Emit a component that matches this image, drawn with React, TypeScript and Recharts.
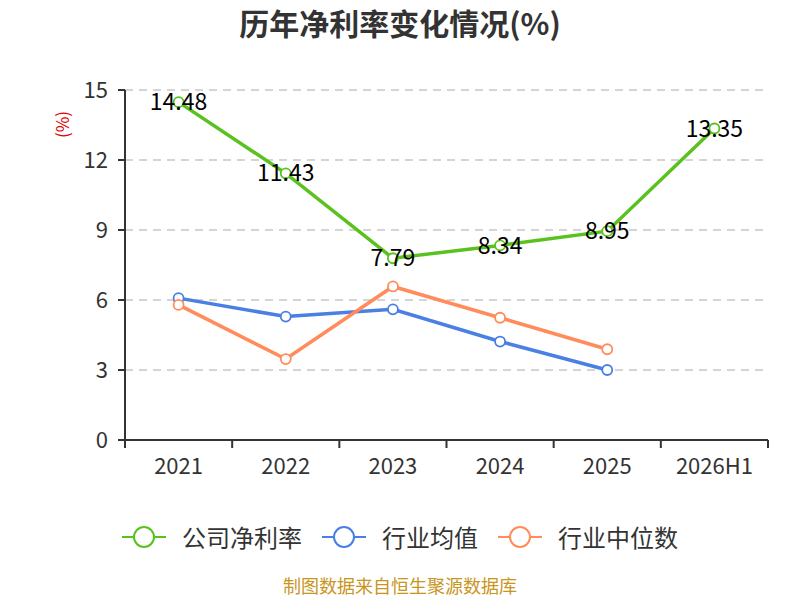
import { CartesianGrid, LabelList, Line, LineChart, XAxis, YAxis } from 'recharts';

const GREEN = '#5ac21e';
const BLUE = '#4a7fe3';
const ORANGE = '#ff8c5a';
const INK = '#333333';
const FONT = "'Noto Sans CJK SC', 'Noto Sans', sans-serif";

const years = ['2021', '2022', '2023', '2024', '2025', '2026H1'];
const companyMargin = [14.48, 11.43, 7.79, 8.34, 8.95, 13.35];
const industryAvg = [6.08, 5.29, 5.6, 4.22, 3.0];
const industryMedian = [5.79, 3.47, 6.58, 5.24, 3.89];
const yTicks = [0, 3, 6, 9, 12, 15];

const series = [
  { key: 'company', name: '公司净利率', color: GREEN },
  { key: 'avg', name: '行业均值', color: BLUE },
  { key: 'median', name: '行业中位数', color: ORANGE },
];

const data = years.map((year, i) => ({
  year,
  company: companyMargin[i],
  avg: industryAvg[i],
  median: industryMedian[i],
}));

// category tick with boundary tick marks (echarts style)
function YearTick(props: any) {
  const { x, y, payload, index, visibleTicksCount } = props;
  const half = payload.offset || 0;
  const isLast = index === visibleTicksCount - 1;
  return (
    <g>
      <line x1={x - half} y1={y} x2={x - half} y2={y + 8} stroke={INK} strokeWidth={2} />
      {isLast && <line x1={x + half} y1={y} x2={x + half} y2={y + 8} stroke={INK} strokeWidth={2} />}
      <text x={x} y={y + 34} textAnchor="middle" fill={INK} fontSize={22}>
        {payload.value}
      </text>
    </g>
  );
}

function LegendIcon({ color }: { color: string }) {
  return (
    <svg width={44} height={26} style={{ marginRight: 16 }}>
      <line x1={0} y1={13} x2={44} y2={13} stroke={color} strokeWidth={2} />
      <circle cx={22} cy={13} r={10} fill="#fff" stroke={color} strokeWidth={2} />
    </svg>
  );
}

export default function App() {
  return (
    <div
      style={{
        position: 'absolute',
        left: 0,
        top: 0,
        width: 800,
        height: 600,
        background: '#fff',
        fontFamily: FONT,
        overflow: 'hidden',
      }}
    >
      <div
        style={{
          position: 'absolute',
          top: 0,
          width: 800,
          textAlign: 'center',
          fontSize: 30,
          fontWeight: 'bold',
          color: INK,
        }}
      >
        历年净利率变化情况(%)
      </div>
      <div
        style={{
          position: 'absolute',
          left: 48,
          top: 112,
          color: '#e00000',
          fontSize: 17,
          transform: 'rotate(-90deg)',
          transformOrigin: 'center',
        }}
      >
        (%)
      </div>
      <LineChart
        width={800}
        height={600}
        data={data}
        margin={{ top: 90, right: 32, left: 65, bottom: 120 }}
        style={{ position: 'absolute', left: 0, top: 0 }}
      >
        <CartesianGrid horizontal vertical={false} stroke="#c8c8c8" strokeDasharray="8 6" strokeWidth={1.5} />
        <XAxis
          dataKey="year"
          scale="band"
          height={40}
          interval={0}
          axisLine={{ stroke: INK, strokeWidth: 2 }}
          tickLine={false}
          tickSize={0}
          tickMargin={0}
          tick={<YearTick />}
        />
        <YAxis
          width={60}
          domain={[0, 15]}
          ticks={yTicks}
          interval={0}
          axisLine={{ stroke: INK, strokeWidth: 2 }}
          tickLine={{ stroke: INK, strokeWidth: 2 }}
          tickSize={7}
          tickMargin={10}
          tick={{ fill: INK, fontSize: 22 }}
        />
        <Line
          dataKey="avg"
          name="行业均值"
          stroke={BLUE}
          strokeWidth={3.5}
          dot={{ r: 5, fill: '#fff', stroke: BLUE, strokeWidth: 1.8 }}
          isAnimationActive={false}
        />
        <Line
          dataKey="median"
          name="行业中位数"
          stroke={ORANGE}
          strokeWidth={3.5}
          dot={{ r: 5, fill: '#fff', stroke: ORANGE, strokeWidth: 1.8 }}
          isAnimationActive={false}
        />
        <Line
          dataKey="company"
          name="公司净利率"
          stroke={GREEN}
          strokeWidth={3.5}
          dot={{ r: 5, fill: '#fff', stroke: GREEN, strokeWidth: 1.8 }}
          isAnimationActive={false}
        >
          <LabelList dataKey="company" position="center" fill="#000" fontSize={23} />
        </Line>
      </LineChart>
      <div
        style={{
          position: 'absolute',
          top: 519,
          width: 800,
          display: 'flex',
          justifyContent: 'center',
          alignItems: 'center',
          gap: 20,
          fontSize: 24,
          color: INK,
        }}
      >
        {series.map((s) => (
          <div key={s.key} style={{ display: 'flex', alignItems: 'center' }}>
            <LegendIcon color={s.color} />
            <span>{s.name}</span>
          </div>
        ))}
      </div>
      <div
        style={{
          position: 'absolute',
          top: 575,
          width: 800,
          textAlign: 'center',
          fontSize: 18,
          lineHeight: '20px',
          color: '#c8951e',
        }}
      >
        制图数据来自恒生聚源数据库
      </div>
    </div>
  );
}
